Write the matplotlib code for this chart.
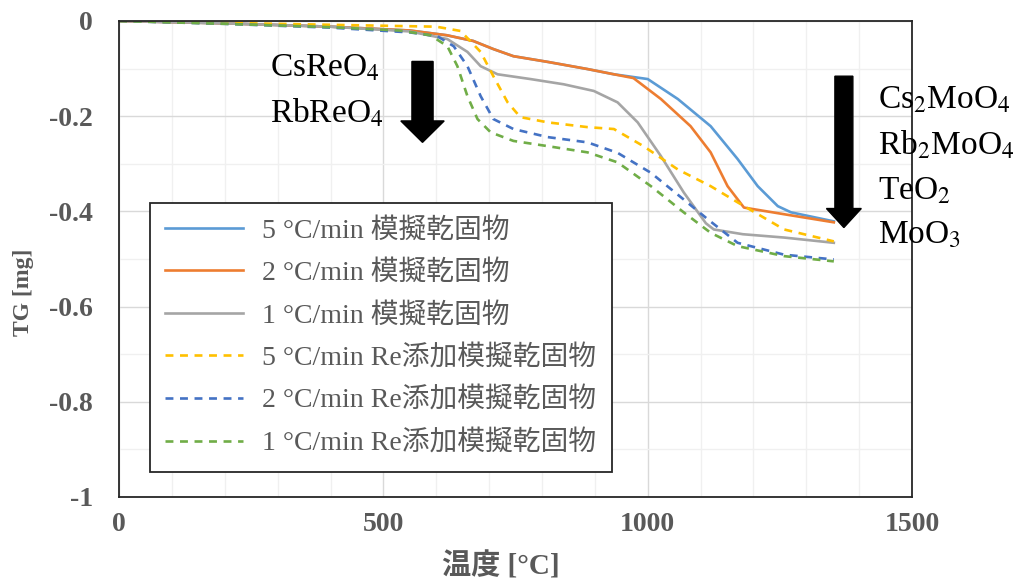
import matplotlib.pyplot as plt
from matplotlib.patches import FancyArrow
from matplotlib.ticker import MultipleLocator, FuncFormatter

plt.rcParams['mathtext.fontset'] = 'stix'

# データ (温度 [°C], TG [mg])
t_5 = [0, 200, 400, 550, 620, 670, 708, 746, 811, 886, 936, 1000, 1057, 1119, 1170, 1208, 1246, 1271, 1352]
tg_5 = [0, -0.005, -0.012, -0.02, -0.03, -0.042, -0.059, -0.074, -0.086, -0.101, -0.112, -0.122, -0.164,
        -0.221, -0.29, -0.347, -0.389, -0.402, -0.421]

t_2 = [0, 200, 400, 550, 620, 670, 708, 746, 811, 886, 936, 973, 1025, 1081, 1119, 1151, 1182, 1258, 1352]
tg_2 = [0, -0.005, -0.012, -0.02, -0.03, -0.042, -0.059, -0.074, -0.086, -0.101, -0.112, -0.12, -0.164,
        -0.221, -0.276, -0.347, -0.392, -0.406, -0.423]

t_1 = [0, 200, 400, 550, 621, 659, 684, 716, 778, 841, 898, 943, 981, 1025, 1068, 1110, 1125, 1180, 1258, 1352]
tg_1 = [0, -0.005, -0.012, -0.022, -0.038, -0.065, -0.095, -0.112, -0.122, -0.133, -0.147, -0.171, -0.213,
        -0.284, -0.36, -0.425, -0.438, -0.448, -0.455, -0.466]

t_5re = [0, 200, 400, 600, 646, 684, 708, 735, 759, 811, 886, 936, 992, 1057, 1119, 1170, 1258, 1352]
tg_5re = [0, -0.004, -0.008, -0.012, -0.021, -0.065, -0.116, -0.171, -0.202, -0.213, -0.223, -0.227, -0.263,
          -0.312, -0.347, -0.381, -0.438, -0.463]

t_2re = [0, 200, 400, 550, 602, 633, 659, 684, 708, 746, 811, 886, 943, 1006, 1068, 1114, 1170, 1258, 1352]
tg_2re = [0, -0.006, -0.014, -0.024, -0.032, -0.053, -0.095, -0.158, -0.206, -0.227, -0.244, -0.255, -0.277,
          -0.319, -0.375, -0.417, -0.466, -0.491, -0.501]

t_1re = [0, 200, 400, 530, 589, 621, 640, 659, 678, 703, 746, 811, 886, 943, 1006, 1068, 1119, 1170, 1258, 1352]
tg_1re = [0, -0.006, -0.013, -0.02, -0.03, -0.053, -0.095, -0.158, -0.206, -0.234, -0.252, -0.263, -0.276,
          -0.297, -0.347, -0.402, -0.445, -0.473, -0.494, -0.505]

labels = ["5 °C/min 模擬乾固物", "2 °C/min 模擬乾固物", "1 °C/min 模擬乾固物",
          "5 °C/min Re添加模擬乾固物", "2 °C/min Re添加模擬乾固物", "1 °C/min Re添加模擬乾固物"]

serif_cjk = ['Liberation Serif', 'Noto Sans CJK JP']

fig = plt.figure(figsize=(10.27, 5.81), dpi=100)
ax = fig.add_axes([0.1159, 0.1446, 0.7722, 0.8193])

# 実線
ax.plot(t_5, tg_5, color='#5b9bd5', lw=1.9, label=labels[0])
ax.plot(t_2, tg_2, color='#ed7d31', lw=1.9, label=labels[1])
ax.plot(t_1, tg_1, color='#a5a5a5', lw=1.9, label=labels[2])
# 破線
ax.plot(t_5re, tg_5re, color='#ffc000', lw=1.9, ls=(0, (3, 2.5)), label=labels[3])
ax.plot(t_2re, tg_2re, color='#4472c4', lw=1.9, ls=(0, (3, 2.5)), label=labels[4])
ax.plot(t_1re, tg_1re, color='#70ad47', lw=1.9, ls=(0, (3, 2.5)), label=labels[5])

ax.set_xlim(0, 1500)
ax.set_ylim(-1, 0)
ax.xaxis.set_major_locator(MultipleLocator(500))
ax.xaxis.set_minor_locator(MultipleLocator(100))
ax.yaxis.set_major_locator(MultipleLocator(0.2))
ax.yaxis.set_minor_locator(MultipleLocator(0.1))
ax.yaxis.set_major_formatter(FuncFormatter(lambda v, p: '%g' % round(v, 1) if abs(v) > 1e-9 else '0'))
ax.grid(True, which='major', color='#d9d9d9', lw=1.0)
ax.grid(True, which='minor', color='#f0f0f0', lw=1.0)
ax.set_axisbelow(True)
ax.tick_params(which='both', length=0)
ax.tick_params(axis='x', pad=11)
ax.tick_params(axis='y', pad=19)
for lab in ax.get_xticklabels() + ax.get_yticklabels():
    lab.set_fontfamily('Liberation Serif')
    lab.set_fontweight('bold')
    lab.set_fontsize(20)
    lab.set_color('#595959')
for s in ax.spines.values():
    s.set_color('#262626')
    s.set_linewidth(1.3)

ax.set_ylabel('TG [mg]', fontfamily='Liberation Serif', fontweight='bold', fontsize=17,
              color='#595959')
ax.yaxis.set_label_coords(-0.107, 0.43)
ax.set_xlabel('温度 [°C]', fontfamily=serif_cjk, fontweight='bold', fontsize=21,
              color='#595959')
ax.xaxis.set_label_coords(0.482, -0.116)

leg = ax.legend(loc='upper left', bbox_to_anchor=(0.039, 0.618), borderaxespad=0,
                prop={'family': serif_cjk, 'size': 20},
                handlelength=2.8, handletextpad=0.7, labelspacing=0.6, borderpad=0.55,
                fancybox=False, framealpha=1, edgecolor='#262626')
leg.get_frame().set_linewidth(1.3)
for txt in leg.get_texts():
    txt.set_color('#595959')

# 矢印と注記
ax.add_patch(FancyArrow(574, -0.085, 0, -0.17, width=40, head_width=82, head_length=0.045,
                        length_includes_head=True, color='black', clip_on=False))
ax.add_patch(FancyArrow(1371, -0.116, 0, -0.318, width=34, head_width=66, head_length=0.04,
                        length_includes_head=True, color='black', clip_on=False))

ax.text(286, -0.1, 'CsReO$_4$', fontsize=24, fontfamily='Liberation Serif', va='center')
ax.text(286, -0.193, 'RbReO$_4$', fontsize=24, fontfamily='Liberation Serif', va='center')
right_notes = ['Cs$_2$MoO$_4$', 'Rb$_2$MoO$_4$', 'TeO$_2$', 'MoO$_3$']
for note, yv in zip(right_notes, [-0.166, -0.261, -0.357, -0.45]):
    ax.text(1436, yv, note, fontsize=24, fontfamily='Liberation Serif', va='center', clip_on=False)

fig.savefig('out.png', dpi=100)
